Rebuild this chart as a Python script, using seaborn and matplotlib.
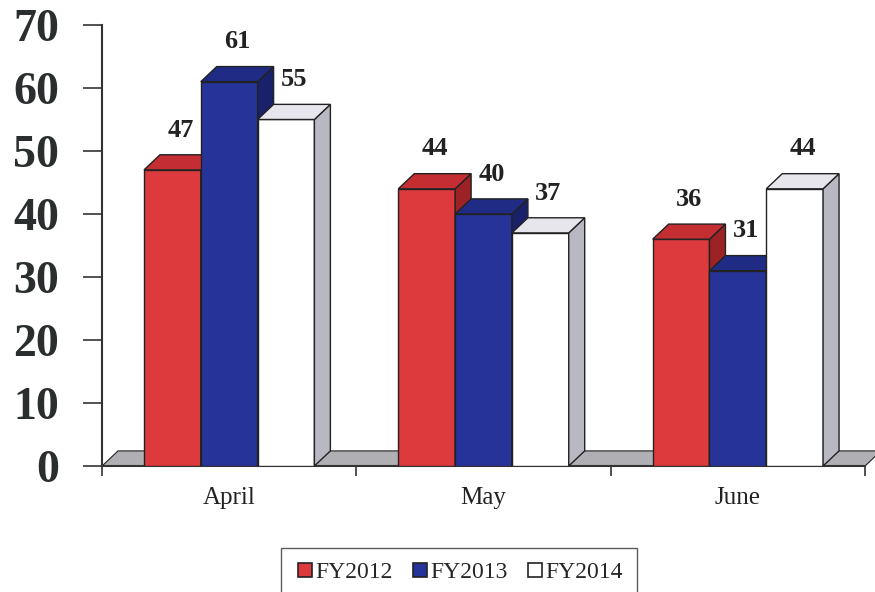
import matplotlib
matplotlib.use("Agg")
import matplotlib.pyplot as plt
import seaborn as sns
import pandas as pd
import numpy as np
from matplotlib.patches import Polygon
from matplotlib.lines import Line2D

months = ["April", "May", "June"]
series = ["FY2012", "FY2013", "FY2014"]
fy2012 = [47, 44, 36]
fy2013 = [61, 40, 31]
fy2014 = [55, 37, 44]
yticks = [0, 10, 20, 30, 40, 50, 60, 70]

front = {"FY2012": "#dc3a3c", "FY2013": "#26349a", "FY2014": "#ffffff"}
topc = {"FY2012": "#c42e32", "FY2013": "#1f2b84", "FY2014": "#e6e6ec"}
sidec = {"FY2012": "#9c2226", "FY2013": "#18216a", "FY2014": "#b8b8c2"}
edge = "#222222"

rows = []
for s, vals in zip(series, [fy2012, fy2013, fy2014]):
    for m, v in zip(months, vals):
        rows.append({"month": m, "fy": s, "value": v})
df = pd.DataFrame(rows)

sns.set_style("white")
plt.rcParams["font.family"] = ["Liberation Serif", "DejaVu Serif"]

fig = plt.figure(figsize=(8.75, 5.92), dpi=100)
ax = fig.add_axes([0.1166, 0.2128, 0.872, 0.745])

sns.barplot(data=df, x="month", y="value", hue="fy", order=months, hue_order=series,
            palette=[front[s] for s in series], width=0.67, gap=0, edgecolor=edge,
            linewidth=1.0, saturation=1, legend=False, ax=ax)

ax.set_xlim(-0.5, 2.5)
ax.set_ylim(0, 70)

dx = 16 / 254.5
dy = 2.4

# floor
floor = Polygon([(-0.5, 0), (2.5, 0), (2.5 + dx, dy), (-0.5 + dx, dy)], closed=True,
                facecolor="#b0b0b4", edgecolor=edge, linewidth=0.8, zorder=1.5, clip_on=False)
ax.add_patch(floor)

bars = []
for i, p in enumerate(ax.patches[:9]):
    s = series[i // 3]
    bars.append((p.get_x(), p, s))
bars.sort(key=lambda t: t[0])

for k, (x0, p, s) in enumerate(bars):
    z = 3 + k * 0.1
    p.set_zorder(z)
    w = p.get_width()
    h = p.get_height()
    x1 = x0 + w
    top = Polygon([(x0, h), (x1, h), (x1 + dx, h + dy), (x0 + dx, h + dy)], closed=True,
                  facecolor=topc[s], edgecolor=edge, linewidth=1.0, zorder=z + 0.01, clip_on=False)
    side = Polygon([(x1, 0), (x1 + dx, dy), (x1 + dx, h + dy), (x1, h)], closed=True,
                   facecolor=sidec[s], edgecolor=edge, linewidth=1.0, zorder=z + 0.01, clip_on=False)
    ax.add_patch(side)
    ax.add_patch(top)
    ax.text(x0 + w / 2 + dx / 2, h + 5.3, f"{int(h)}", ha="center", va="baseline",
            fontsize=19, fontweight="bold", color="#222222", zorder=10)

ax.set_xlabel("")
ax.set_ylabel("")
ax.set_yticks(yticks)
ax.set_yticklabels([str(t) for t in yticks], fontsize=33, fontweight="bold", color="#2a2e2e")
ax.tick_params(axis="y", direction="out", length=14, width=1.2, color="#333333", pad=17, left=True)
ax.set_xticks([0, 1, 2])
ax.set_xticklabels(months, fontsize=18, color="#222222")
ax.tick_params(axis="x", which="major", length=0, pad=15)
ax.set_xticks([-0.5, 0.5, 1.5, 2.5], minor=True)
ax.tick_params(axis="x", which="minor", direction="out", length=7, width=1.2, color="#333333", bottom=True)

for sp in ["top", "right"]:
    ax.spines[sp].set_visible(False)
for sp in ["left", "bottom"]:
    ax.spines[sp].set_color("#333333")
    ax.spines[sp].set_linewidth(1.5)
    ax.spines[sp].set_zorder(2.5)

handles = [Line2D([], [], linestyle="none", marker="s", markersize=10,
                  markerfacecolor=front[s], markeredgecolor=edge, markeredgewidth=1.2) for s in series]
leg = fig.legend(handles, series, loc="upper center", bbox_to_anchor=(0.525, 0.095), ncol=3,
                 frameon=True, fancybox=False, edgecolor="#333333", fontsize=17,
                 handletextpad=0.05, columnspacing=0.75, borderpad=0.6, handlelength=0.8)
leg.get_frame().set_linewidth(1.0)

fig.savefig("out.png", dpi=100, facecolor="white")
